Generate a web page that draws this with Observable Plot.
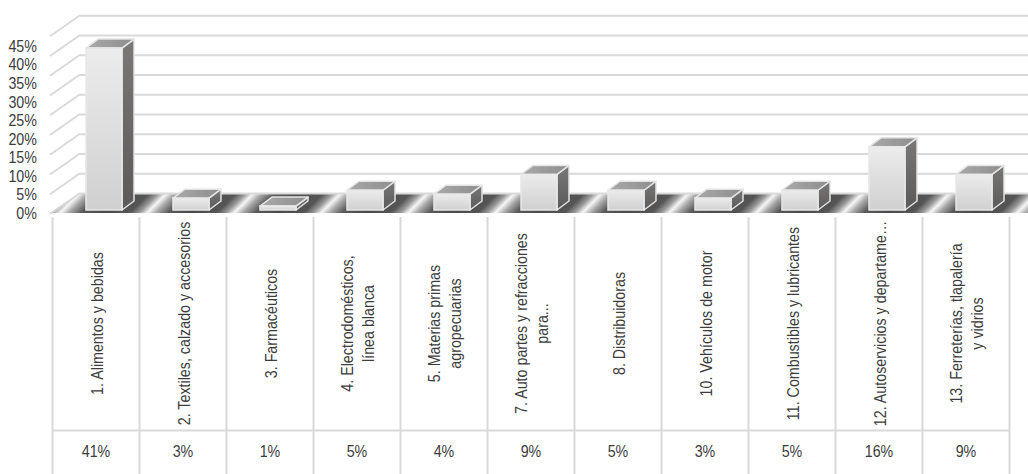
<!DOCTYPE html>
<html>
<head>
<meta charset="utf-8">
<script src="https://cdn.jsdelivr.net/npm/d3@7"></script>
<script src="https://cdn.jsdelivr.net/npm/@observablehq/plot@0.6"></script>
<style>
html,body{margin:0;padding:0;background:#fff;}
#chart svg{display:block;}
</style>
</head>
<body>
<div id="chart"></div>
<script>
// ---- data ----
const categories = [
  "1. Alimentos y bebidas",
  "2. Textiles, calzado y accesorios",
  "3. Farmacéuticos",
  "4. Electrodomésticos,\nlínea blanca",
  "5. Materias primas\nagropecuarias",
  "7. Auto partes y refracciones\npara...",
  "8. Distribuidoras",
  "10. Vehículos de motor",
  "11. Combustibles y lubricantes",
  "12. Autoservicios y departame…",
  "13. Ferreterías, tlapalería\ny vidrios"
];
const values = [41, 3, 1, 5, 4, 9, 5, 3, 5, 16, 9];
const yTicks = [0, 5, 10, 15, 20, 25, 30, 35, 40, 45];
const tickLabels = ["0%", "5%", "10%", "15%", "20%", "25%", "30%", "35%", "40%", "45%"];

const data = categories.map((c, i) => ({label: c, value: values[i]}));

// ---- layout / style ----
const W = 1028, H = 474;
const ML = 52, MR = 19, MT = 32.25, MB = 264;
const BW = (W - ML - MR) / categories.length;
const FONT = '"Liberation Sans",Arial,sans-serif';
const NARROW = 0.84;            // horizontal condensing of the text
const TEXT = "#3c3c3c";
const GRID = "#d9d9d9";
const WALL_BACK_DY = -17, WALL_FRONT_DY = 3, WALL_DEPTH_X = 30;
const BAR_L = 34 / 87, BAR_R = 70 / 87, DEPTH_X = 12, DEPTH_Y = -9;
const STREAK_K = 1.0, STREAK_OFF = 8;
const LABEL_PERSPECTIVE = 0.94;

const NS = "http://www.w3.org/2000/svg";
function el(tag, attrs, parent) {
  const e = document.createElementNS(NS, tag);
  for (const k in attrs) e.setAttribute(k, attrs[k]);
  if (parent) parent.appendChild(e);
  return e;
}
function grad(defs, id, x2, y2, stops) {
  const g = el("linearGradient", {id, x1: 0, y1: 0, x2, y2}, defs);
  for (const [o, c] of stops) el("stop", {offset: o, "stop-color": c}, g);
}
const pts = (a) => a.map(p => p.join(",")).join(" ");

// defs + floor
function floorMark(index, scales) {
  const sx = scales.x, sy = scales.y;
  const g = el("g", {});
  const defs = el("defs", {}, g);
  grad(defs, "gFront", 0, 1, [[0, "#ececec"], [1, "#d0d0d0"]]);
  grad(defs, "gTop", 1, 0, [[0, "#a9a9a9"], [1, "#8e8e8e"]]);
  grad(defs, "gSide", 0, 1, [[0, "#7a7876"], [1, "#5c5a58"]]);
  grad(defs, "gStreak", 1, 0, [
    [0, "#4b4b4b"], [0.3, "#555555"], [0.41, "#9a9a9a"], [0.5, "#f6f6f6"],
    [0.6, "#a8a8a8"], [0.74, "#5a5a5a"], [1, "#4b4b4b"]
  ]);
  const b0 = sx(data[0].label);
  const bw = sx(data[1].label) - b0;
  const yB = sy(0) + WALL_BACK_DY, yF = sy(0) + WALL_FRONT_DY;
  const pat = el("pattern", {
    id: "floorPat", patternUnits: "userSpaceOnUse", width: bw, height: 600,
    x: b0 + STREAK_OFF + STREAK_K * yF - bw / 2, y: 0,
    patternTransform: `skewX(${-Math.atan(STREAK_K) * 180 / Math.PI})`
  }, defs);
  el("rect", {width: bw, height: 600, fill: "url(#gStreak)"}, pat);
  const xL = sx.range ? sx.range()[0] : b0;
  el("polygon", {
    points: pts([[xL - 2 + WALL_DEPTH_X, yB], [W, yB], [W, yF], [xL - 2, yF]]),
    fill: "url(#floorPat)"
  }, g);
  return g;
}

// side-wall diagonals
function sideWall(index, scales) {
  const sy = scales.y;
  const g = el("g", {stroke: GRID, "stroke-width": 2, fill: "none"});
  for (const v of yTicks) {
    const y = sy(v);
    el("line", {x1: ML - 2, y1: y + WALL_FRONT_DY + 1, x2: ML - 2 + WALL_DEPTH_X, y2: y + WALL_BACK_DY}, g);
  }
  return g;
}

// 3D top + side faces of bars
function barFaces(index, scales) {
  const sx = scales.x, sy = scales.y;
  const bw = sx(data[1].label) - sx(data[0].label);
  const g = el("g", {stroke: "#e4e4e4", "stroke-width": 1.5, "stroke-linejoin": "round"});
  for (const d of data) {
    const xl = sx(d.label) + bw * BAR_L, xr = sx(d.label) + bw * BAR_R;
    const yt = sy(d.value), yb = sy(0);
    el("polygon", {points: pts([[xr, yt], [xr + DEPTH_X, yt + DEPTH_Y], [xr + DEPTH_X, yb + DEPTH_Y], [xr, yb]]), fill: "url(#gSide)"}, g);
    el("polygon", {points: pts([[xl, yt], [xr, yt], [xr + DEPTH_X, yt + DEPTH_Y], [xl + DEPTH_X, yt + DEPTH_Y]]), fill: "url(#gTop)"}, g);
  }
  return g;
}

// y-axis labels on the front edge of the side wall
function yLabels(index, scales) {
  const sy = scales.y;
  const g = el("g", {"text-anchor": "end", fill: TEXT, "font-size": 17, "font-family": FONT});
  yTicks.forEach((v, i) => {
    const y = sy(v * LABEL_PERSPECTIVE) + WALL_FRONT_DY;
    const t = el("text", {transform: `translate(${ML - 15},${y}) scale(${NARROW},1)`, dy: "0.35em"}, g);
    t.textContent = tickLabels[i];
  });
  return g;
}

const chart = Plot.plot({
  width: W, height: H,
  marginLeft: ML, marginRight: MR, marginTop: MT, marginBottom: MB,
  style: {fontFamily: FONT, fontSize: "17px", color: TEXT, background: "#fff"},
  x: {type: "band", domain: categories, padding: 0, axis: null},
  y: {domain: [0, 45], axis: null},
  marks: [
    floorMark,
    Plot.ruleY(yTicks, {y: d => d, dy: WALL_BACK_DY, insetLeft: WALL_DEPTH_X - 2, insetRight: -MR, stroke: GRID, strokeWidth: 2}),
    sideWall,
    barFaces,
    Plot.barY(data, {x: "label", y: "value", insetLeft: BW * BAR_L, insetRight: BW * (1 - BAR_R), fill: "url(#gFront)", stroke: "#e8e8e8", strokeWidth: 1.5}),
    yLabels,
    // data table
    Plot.ruleX(data, {x: "label", dx: -BW / 2, insetTop: 217 - MT, insetBottom: -MB, stroke: GRID, strokeWidth: 2}),
    Plot.ruleX([data[data.length - 1]], {x: "label", dx: BW / 2, insetTop: 217 - MT, insetBottom: -MB, stroke: GRID, strokeWidth: 2}),
    Plot.ruleY([0], {dy: 220, stroke: GRID, strokeWidth: 2}),
    Plot.text(data, {x: "label", text: "label", frameAnchor: "bottom", dy: 113, rotate: -90, textAnchor: "middle", lineAnchor: "middle", lineHeight: 1.25, fontSize: 17, fill: TEXT, className: "narrow"}),
    Plot.text(data, {x: "label", text: d => d.value + "%", frameAnchor: "bottom", dy: 246, fontSize: 17, fill: TEXT, className: "narrow"})
  ]
});
// condense the table texts along their reading direction
chart.querySelectorAll("g.narrow text").forEach(t => {
  const tr = t.getAttribute("transform");
  if (tr) t.setAttribute("transform", tr + ` scale(${NARROW},1)`);
});
document.getElementById("chart").appendChild(chart);
</script>
</body>
</html>
